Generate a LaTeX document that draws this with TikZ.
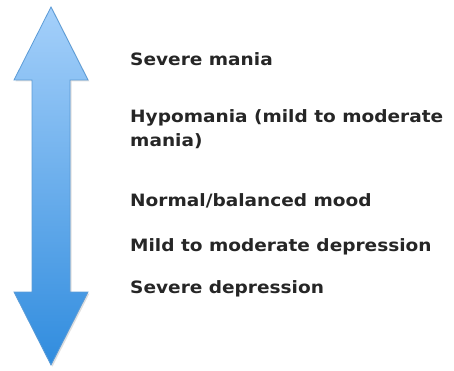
\documentclass[tikz,border=0pt]{standalone}
\usepackage{fontspec}
\setmainfont{DejaVu Sans}
\newfontfamily\lblfont[FakeStretch=1.09]{DejaVu Sans Bold}
\usetikzlibrary{shadows}
\definecolor{arrtop}{RGB}{165,208,250}
\definecolor{arrbot}{RGB}{48,140,222}
\definecolor{arredge}{RGB}{90,155,215}
\begin{document}
\begin{tikzpicture}[x=1pt,y=-1pt,
  lbl/.style={anchor=base west,inner sep=0pt,font=\lblfont\fontsize{17}{24}\selectfont,text=black!85,align=left}]
\useasboundingbox (0,0) rectangle (454,371);
\draw[arredge,line width=0.8pt,top color=arrtop,bottom color=arrbot,
  drop shadow={shadow xshift=1.5pt,shadow yshift=-1.5pt,opacity=0.25}]
  (51,7) -- (88,80) -- (70,80) -- (70,292) -- (88,292) -- (51,365)
  -- (14,292) -- (32,292) -- (32,80) -- (14,80) -- cycle;
\node[lbl] (sm) at (130,66) {Severe mania};
\node[lbl] (hm) at (130,147) {Hypomania (mild to moderate\\mania)};
\node[lbl] (nm) at (130,206) {Normal/balanced mood};
\node[lbl] (md) at (130,251) {Mild to moderate depression};
\node[lbl] (sd) at (130,293) {Severe depression};
\end{tikzpicture}
\end{document}
